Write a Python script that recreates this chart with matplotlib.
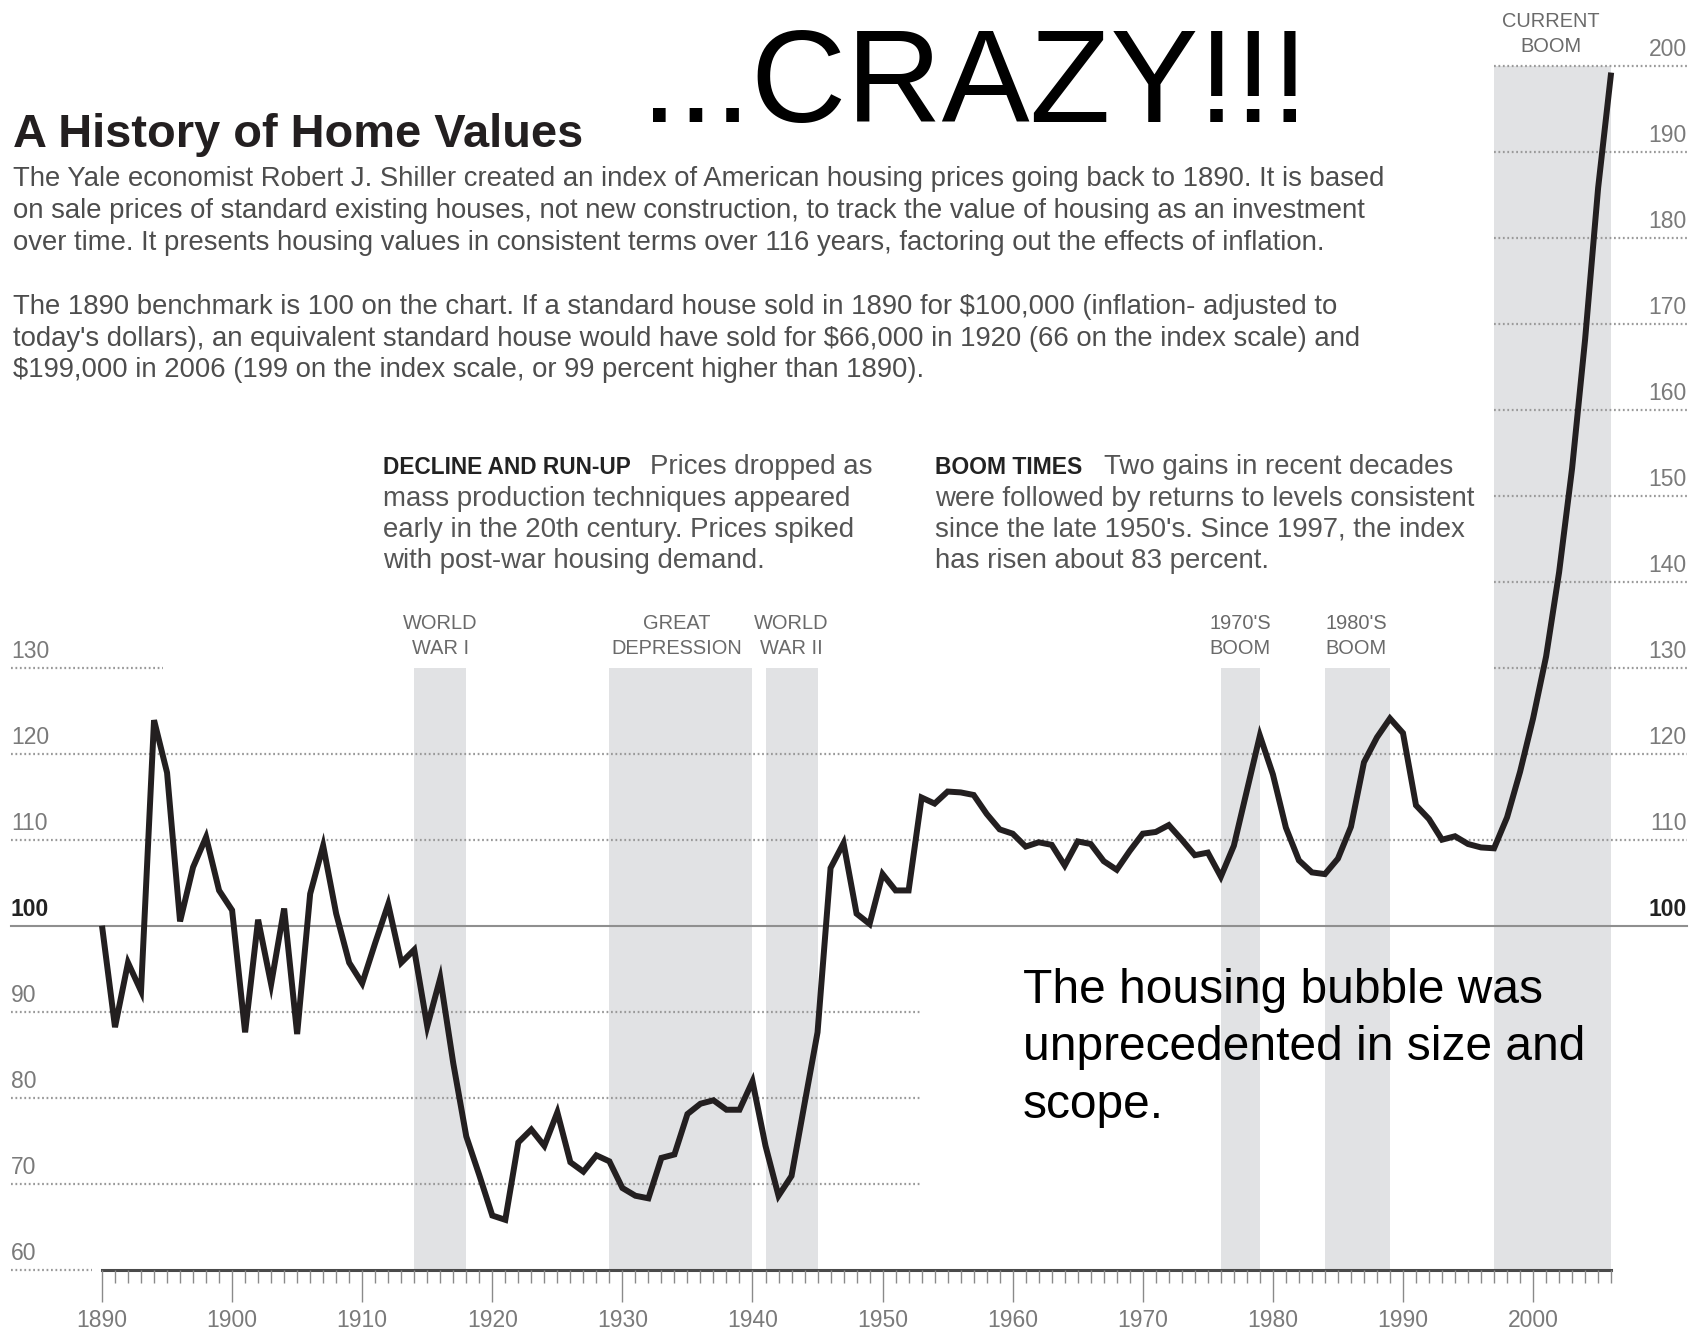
import numpy as np
import matplotlib
matplotlib.use('Agg')
from matplotlib import pyplot as plt

plt.rcParams['font.family'] = ['Liberation Sans', 'DejaVu Sans']

years = np.arange(1890, 2007)
index_values = [
    100.0, 88.2, 95.7, 92.4, 123.9, 117.8, 100.5, 106.8, 110.3, 104.1,
    101.8, 87.6, 100.7, 93.2, 102.0, 87.4, 103.7, 109.3, 101.4, 95.7,
    93.3, 98.0, 102.5, 95.7, 97.2, 88.3, 93.9, 84.0, 75.5, 71.0,
    66.3, 65.8, 74.8, 76.3, 74.4, 78.3, 72.5, 71.4, 73.3, 72.6,
    69.5, 68.6, 68.3, 73.0, 73.4, 78.1, 79.3, 79.7, 78.6, 78.6,
    81.9, 74.4, 68.6, 70.9, 79.3, 87.6, 106.7, 109.6, 101.4, 100.2,
    106.0, 104.1, 104.1, 114.9, 114.2, 115.6, 115.5, 115.2, 113.0, 111.2,
    110.7, 109.2, 109.7, 109.4, 107.0, 109.8, 109.5, 107.5, 106.5, 108.7,
    110.7, 110.9, 111.7, 110.0, 108.2, 108.5, 105.7, 109.3, 115.7, 122.1,
    117.6, 111.4, 107.6, 106.2, 106.0, 107.8, 111.5, 119.0, 121.9, 124.1,
    122.4, 114.0, 112.4, 110.0, 110.4, 109.5, 109.1, 109.0, 112.6, 117.9,
    124.1, 131.3, 141.1, 153.2, 168.2, 185.8, 199.2,
]

band_starts = [1914, 1929, 1941, 1976, 1984, 1997]
band_ends = [1918, 1940, 1945, 1979, 1989, 2006]
band_tops = [130, 130, 130, 130, 130, 200]
band_top_lines = ['WORLD', 'GREAT', 'WORLD', "1970'S", "1980'S", 'CURRENT']
band_bottom_lines = ['WAR I', 'DEPRESSION', 'WAR II', 'BOOM', 'BOOM', 'BOOM']
band_label_x = [1916.0, 1934.2, 1943.0, 1977.5, 1986.4, 2001.4]

left_levels = [60, 70, 80, 90, 100, 110, 120, 130]
right_levels = [100, 110, 120, 130, 140, 150, 160, 170, 180, 190, 200]
decades = list(range(1890, 2001, 10))

intro_lines = [
    'The Yale economist Robert J. Shiller created an index of American housing prices going back to 1890. It is based',
    'on sale prices of standard existing houses, not new construction, to track the value of housing as an investment',
    'over time. It presents housing values in consistent terms over 116 years, factoring out the effects of inflation.',
    'The 1890 benchmark is 100 on the chart. If a standard house sold in 1890 for $100,000 (inflation- adjusted to',
    "today's dollars), an equivalent standard house would have sold for $66,000 in 1920 (66 on the index scale) and",
    '$199,000 in 2006 (199 on the index scale, or 99 percent higher than 1890).',
]
decline_lines = [
    'Prices dropped as',
    'mass production techniques appeared',
    'early in the 20th century. Prices spiked',
    'with post-war housing demand.',
]
boom_lines = [
    'Two gains in recent decades',
    'were followed by returns to levels consistent',
    "since the late 1950's. Since 1997, the index",
    'has risen about 83 percent.',
]
bubble_lines = ['The housing bubble was', 'unprecedented in size and', 'scope.']

W, H = 1700, 1333
fig = plt.figure(figsize=(W / 100, H / 100), dpi=100)
ax = fig.add_axes([0, 0, 1, 1])
ax.set_xlim(1882.16, 2012.83)
ax.set_ylim(52.64, 207.64)
ax.axis('off')


def fx(px):
    return px / W


def fy(py):
    return 1 - py / H


grid_kw = dict(color='#9a9a9a', lw=1.6, linestyle=(0, (0.8, 1.2)), zorder=2)
x_left, x_right = 1883.0, 2011.8

# shaded periods
for x0, x1, top in zip(band_starts, band_ends, band_tops):
    ax.fill_between([x0, x1], 60, top, color='#e1e2e4', lw=0, zorder=1)

# dotted gridlines, each with its own extent
ax.plot([x_left, 1894.7], [130, 130], **grid_kw)
for lv in [120, 110]:
    ax.plot([x_left, x_right], [lv, lv], **grid_kw)
for lv in [90, 80, 70]:
    ax.plot([x_left, 1953.0], [lv, lv], **grid_kw)
ax.plot([x_left, 1889.2], [60, 60], **grid_kw)
for lv in right_levels[3:]:
    ax.plot([1997.0, x_right], [lv, lv], **grid_kw)
ax.plot([x_left, x_right], [100, 100], color='#8f8f8f', lw=1.5, zorder=2)

# y labels
for lv in left_levels:
    bold = lv == 100
    ax.text(x_left, lv + 1.1, str(lv), ha='left', va='baseline', fontsize=16.5,
            color='#222222' if bold else '#7a7a7a',
            fontweight='bold' if bold else 'normal')
for lv in right_levels:
    bold = lv == 100
    ax.text(x_right, lv + 1.1, str(lv), ha='right', va='baseline', fontsize=16.5,
            color='#222222' if bold else '#7a7a7a',
            fontweight='bold' if bold else 'normal')

# x axis with yearly ticks
ax.plot([1890, 2006], [60, 60], color='#4a4a4a', lw=2.2, zorder=3)
minor = [y for y in years if y % 10 != 0]
ax.vlines(minor, 58.5, 60, color='#8a8a8a', lw=1.0, zorder=3)
ax.vlines(decades, 56.3, 60, color='#8a8a8a', lw=1.0, zorder=3)
for d in decades:
    ax.text(d, 53.3, str(d), ha='center', va='baseline', fontsize=16.5, color='#7a7a7a')

# the index
ax.plot(years, index_values, color='#231f20', lw=4.3, solid_joinstyle='miter',
        solid_capstyle='butt', zorder=5)

# band captions
for xc, t1, t2, top in zip(band_label_x, band_top_lines, band_bottom_lines, band_tops):
    ax.text(xc, top + 4.5, t1, ha='center', va='baseline', fontsize=14.4, color='#6a6a6a')
    ax.text(xc, top + 1.6, t2, ha='center', va='baseline', fontsize=14.4, color='#6a6a6a')

# headline and intro
fig.text(fx(13), fy(147), 'A History of Home Values', fontsize=33.8, fontweight='bold',
         color='#231f20', va='baseline', ha='left')
for i, line in enumerate(intro_lines):
    base = [186.5, 218, 249.5, 314, 345.5, 377][i]
    fig.text(fx(13), fy(base), line, fontsize=19.8, color='#4d4d4d', va='baseline', ha='left')

# annotations
fig.text(fx(383), fy(474), 'DECLINE AND RUN-UP', fontsize=16.3, fontweight='bold',
         color='#222222', va='baseline', ha='left')
fig.text(fx(935), fy(474), 'BOOM TIMES', fontsize=16.5, fontweight='bold',
         color='#222222', va='baseline', ha='left')
for i, base in enumerate([474, 505.5, 537, 568.5]):
    fig.text(fx(650 if i == 0 else 383), fy(base), decline_lines[i], fontsize=19.9,
             color='#555555', va='baseline', ha='left')
    fig.text(fx(1104 if i == 0 else 935), fy(base), boom_lines[i], fontsize=19.9,
             color='#555555', va='baseline', ha='left')

fig.text(fx(641), fy(122), '...CRAZY!!!', fontsize=95, color='black', va='baseline', ha='left')
for i, base in enumerate([1003, 1060.5, 1118]):
    fig.text(fx(1023), fy(base), bubble_lines[i], fontsize=34.5, color='black',
             va='baseline', ha='left')

fig.savefig('out.png', dpi=100, facecolor='white')
